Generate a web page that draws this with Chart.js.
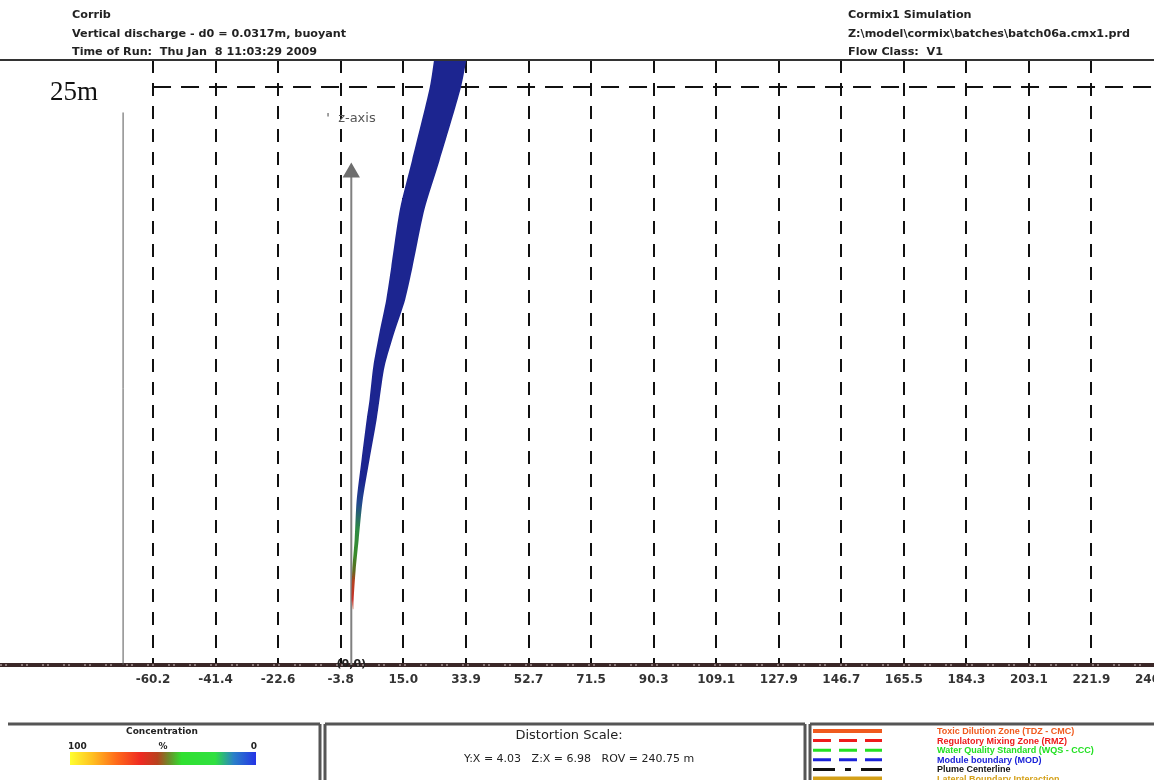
<!DOCTYPE html>
<html>
<head>
<meta charset="utf-8">
<script src="https://cdn.jsdelivr.net/npm/chart.js@4.4.0/dist/chart.umd.min.js"></script>
<style>
    html, body { margin: 0; padding: 0; background: #fff; overflow: hidden; }
    #wrap { width: 1154px; height: 780px; position: relative; }
</style>
</head>
<body>
<div id="wrap"><canvas id="chartPlume"></canvas></div>
<script>
// x axis (m) tick values and labels
const xTickValues = [-60.2, -41.4, -22.6, -3.8, 15.0, 33.9, 52.7, 71.5, 90.3, 109.1, 127.9, 146.7, 165.5, 184.3, 203.1, 221.9, 240.7]
const xTickLabels = ['-60.2', '-41.4', '-22.6', '-3.8', '15.0', '33.9', '52.7', '71.5', '90.3', '109.1', '127.9', '146.7', '165.5', '184.3', '203.1', '221.9', '240.7']

// plume: height z (m) and left / right edge x (m)
const plumeZ     = [2.4, 2.8, 4.1, 5.4, 7.1, 8.9, 10.6, 11.5, 12.9, 14.4, 15.8, 17.2, 19.7, 21.8, 25.0, 26.5]
const plumeLeft  = [-0.2, -0.5, -0.3, 0.4, 1.0, 2.5, 4.0, 4.9, 6.0, 7.9, 9.9, 11.4, 14.0, 17.6, 23.0, 24.6]
const plumeRight = [0.1, 0.1, 0.7, 1.6, 2.8, 4.9, 7.0, 7.9, 9.4, 12.4, 15.6, 17.8, 21.4, 25.9, 32.4, 34.4]

// reference lines
const depthZ = 25
const depthFromX = -60.2
const bankX = -69.2
const bankTopZ = 23.9
const zAxisX = -0.6
const zAxisTopZ = 21.3

const xMin = -106.2
const xMax = 240.7
const zMax = 26.17

const canvas = document.getElementById('chartPlume')
const context = canvas.getContext('2d')

const toPoints = (xs, zs) => zs.map((z, i) => ({ x: xs[i], y: z }))

const plumeFill = (ctx) => {
    const chart = ctx.chart
    if (!chart.chartArea) return '#1c2590'
    const y = chart.scales.y
    const g = chart.ctx.createLinearGradient(0, y.getPixelForValue(2.4), 0, y.getPixelForValue(8.0))
    g.addColorStop(0, '#e0b0a0')
    g.addColorStop(0.08, '#c8322a')
    g.addColorStop(0.22, '#b4401e')
    g.addColorStop(0.3, '#5e6a1e')
    g.addColorStop(0.42, '#3a8a2a')
    g.addColorStop(0.62, '#2e8a44')
    g.addColorStop(0.82, '#22488e')
    g.addColorStop(1, '#1c2590')
    return g
}

const txt = (c, s, x, y, font, color, align = 'left') => {
    c.font = font
    c.fillStyle = color
    c.textAlign = align
    c.textBaseline = 'alphabetic'
    c.fillText(s, x, y)
}

const line = (c, x1, y1, x2, y2, color, w, dash = []) => {
    c.save()
    c.strokeStyle = color
    c.lineWidth = w
    c.setLineDash(dash)
    c.beginPath()
    c.moveTo(x1, y1)
    c.lineTo(x2, y2)
    c.stroke()
    c.restore()
}

const decor = {
    id: 'decor',
    afterDraw(chart) {
        const c = chart.ctx
        const { top, bottom, left, right } = chart.chartArea
        const sx = chart.scales.x
        const sy = chart.scales.y
        c.save()

        // header
        const hf = 'bold 11.2px "DejaVu Sans", sans-serif'
        txt(c, 'Corrib', 72, 18, hf, '#222')
        txt(c, 'Vertical discharge - d0 = 0.0317m, buoyant', 72, 37, hf, '#222')
        txt(c, 'Time of Run:  Thu Jan  8 11:03:29 2009', 72, 55, hf, '#222')
        txt(c, 'Cormix1 Simulation', 848, 18, hf, '#222')
        txt(c, 'Z:\\model\\cormix\\batches\\batch06a.cmx1.prd', 848, 37, hf, '#222')
        txt(c, 'Flow Class:  V1', 848, 55, hf, '#222')
        line(c, 0, top, 1154, top, '#333', 2)

        // labels on the plot
        txt(c, '25m', 50, 100, '27px "Liberation Serif", "Times New Roman", serif', '#111')
        txt(c, "'  z-axis", sx.getPixelForValue(zAxisX) - 25, sy.getPixelForValue(zAxisTopZ) - 51, '13px "DejaVu Sans", sans-serif', '#555')
        txt(c, '(0,0)', sx.getPixelForValue(0) - 2, bottom + 2, 'bold 11px "DejaVu Sans", sans-serif', '#222', 'center')
        line(c, left, bottom, right, bottom, '#d8c8c8', 1, [2, 3, 2, 14])

        // legend boxes
        const by = 724
        line(c, 8, by, 320, by, '#555', 3)
        line(c, 320, by, 320, 780, '#555', 3)
        line(c, 325, by, 805, by, '#555', 3)
        line(c, 325, by, 325, 780, '#555', 3)
        line(c, 805, by, 805, 780, '#555', 3)
        line(c, 810, by, 1154, by, '#555', 3)
        line(c, 810, by, 810, 780, '#555', 3)

        // concentration bar
        const sf = 'bold 9px "DejaVu Sans", sans-serif'
        txt(c, 'Concentration', 162, 734, sf, '#222', 'center')
        txt(c, '100', 68, 749, sf, '#222')
        txt(c, '%', 163, 749, sf, '#222', 'center')
        txt(c, '0', 257, 749, sf, '#222', 'right')
        const g = c.createLinearGradient(70, 0, 256, 0)
        g.addColorStop(0, '#ffff30')
        g.addColorStop(0.12, '#ffc020')
        g.addColorStop(0.25, '#ff6a1a')
        g.addColorStop(0.38, '#ee2a22')
        g.addColorStop(0.47, '#b8421e')
        g.addColorStop(0.53, '#6e8a2a')
        g.addColorStop(0.6, '#30e030')
        g.addColorStop(0.78, '#30e040')
        g.addColorStop(0.88, '#2a80c8')
        g.addColorStop(1, '#2434e6')
        c.fillStyle = g
        c.fillRect(70, 752, 186, 13)

        // distortion scale
        txt(c, 'Distortion Scale:', 569, 739, '13px "DejaVu Sans", sans-serif', '#222', 'center')
        txt(c, 'Y:X = 4.03   Z:X = 6.98   ROV = 240.75 m', 579, 762, '11px "DejaVu Sans", sans-serif', '#222', 'center')

        // zone legend
        const items = [
            ['Toxic Dilution Zone (TDZ - CMC)', '#f05a1e', [], 4],
            ['Regulatory Mixing Zone (RMZ)', '#ee1c1c', [18, 8], 3],
            ['Water Quality Standard (WQS - CCC)', '#22e022', [18, 8], 3],
            ['Module boundary (MOD)', '#1a22d8', [18, 8], 3],
            ['Plume Centerline', '#111', [22, 10, 6, 10], 3],
            ['Lateral Boundary Interaction', '#d4a018', [], 5]
        ]
        const lf = 'bold 9px "Liberation Sans", Arial, sans-serif'
        items.forEach((it, i) => {
            const ly = 731 + i * 9.6
            line(c, 813, ly, 882, ly, it[1], it[3], it[2])
            txt(c, it[0], 937, ly + 3, lf, it[1])
        })
        c.restore()
    }
}

const chartPlume = new Chart(context, {
    type: 'line',
    data: {
        datasets: [
            {
                label: 'plume left',
                data: toPoints(plumeLeft, plumeZ),
                borderWidth: 0,
                borderColor: 'rgba(0,0,0,0)',
                pointRadius: 0,
                tension: 0.25,
                fill: false
            },
            {
                label: 'plume right',
                data: toPoints(plumeRight, plumeZ),
                borderWidth: 0,
                borderColor: 'rgba(0,0,0,0)',
                pointRadius: 0,
                tension: 0.25,
                fill: '-1',
                backgroundColor: plumeFill
            },
            {
                label: '25m',
                data: [{ x: depthFromX, y: depthZ }, { x: xMax, y: depthZ }],
                borderColor: '#111',
                borderWidth: 2,
                borderDash: [18, 10],
                pointRadius: 0,
                fill: false
            },
            {
                label: 'bank',
                data: [{ x: bankX, y: 0 }, { x: bankX, y: bankTopZ }],
                borderColor: '#555',
                borderWidth: 1,
                pointRadius: 0,
                fill: false
            },
            {
                label: 'z axis',
                data: [{ x: zAxisX, y: 0 }, { x: zAxisX, y: zAxisTopZ }],
                borderColor: '#808080',
                borderWidth: 2,
                pointRadius: [0, 8],
                pointStyle: 'triangle',
                pointBackgroundColor: '#6e6e6e',
                pointBorderColor: '#6e6e6e',
                fill: false
            }
        ]
    },
    options: {
        indexAxis: 'y',
        responsive: true,
        maintainAspectRatio: false,
        animation: false,
        layout: { autoPadding: false, padding: { top: 60, left: 0, right: 0, bottom: 0 } },
        plugins: {
            legend: { display: false },
            tooltip: { enabled: false }
        },
        scales: {
            x: {
                type: 'linear',
                min: xMin,
                max: xMax,
                afterBuildTicks: (axis) => {
                    axis.ticks = xTickValues.map(v => ({ value: v }))
                },
                afterFit: (axis) => {
                    axis.paddingLeft = 0
                    axis.paddingRight = 0
                    axis.height = 115
                },
                ticks: {
                    autoSkip: false,
                    maxRotation: 0,
                    padding: 8,
                    color: '#333',
                    font: { family: '"DejaVu Sans", sans-serif', size: 12, weight: 'bold' },
                    callback: (v, i) => xTickLabels[i]
                },
                grid: {
                    color: (c) => c.index === xTickValues.length - 1 ? 'rgba(0,0,0,0)' : '#111',
                    lineWidth: 2,
                    drawTicks: false
                },
                border: { display: true, color: '#3a2727', width: 4, dash: [13, 10] }
            },
            y: {
                type: 'linear',
                display: false,
                min: 0,
                max: zMax
            }
        }
    },
    plugins: [decor]
})
</script>
</body>
</html>
